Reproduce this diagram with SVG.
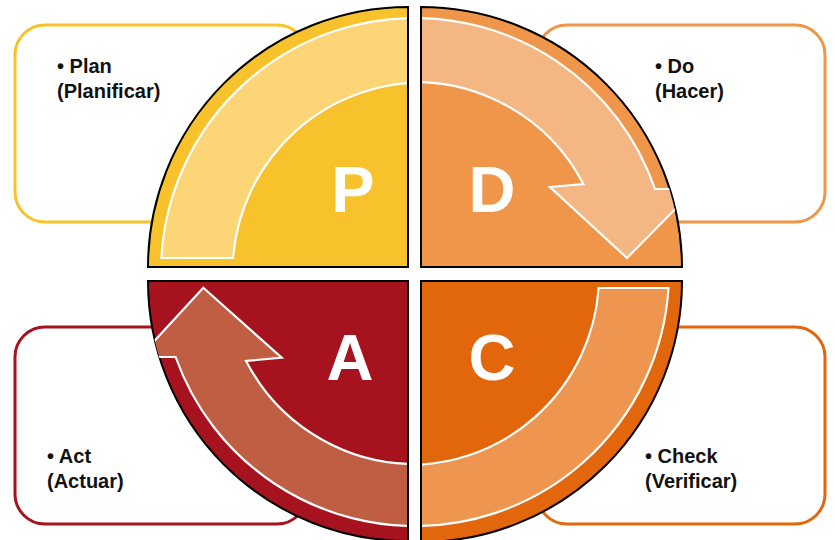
<svg xmlns="http://www.w3.org/2000/svg" width="835" height="540" viewBox="0 0 835 540">
<style>
.box{fill:#fff;stroke-width:3}
.lbl{font-family:"Liberation Sans",Arial,sans-serif;font-weight:bold;font-size:20px;fill:#111}
.quad{stroke:#000;stroke-width:2;stroke-linejoin:miter}
.let{font-family:"Liberation Sans",Arial,sans-serif;font-weight:bold;font-size:65px;fill:#fff;text-anchor:middle}
.band{stroke:#fff;stroke-width:2.2;stroke-linejoin:miter}
</style>
<defs>
<clipPath id="cTL"><path d="M407,266 L148,266 A259,259 0 0 1 407,7 Z"/></clipPath>
<clipPath id="cTR"><path d="M422,266 L422,7 A259,259 0 0 1 681,266 Z"/></clipPath>
<clipPath id="cBL"><path d="M407,282 L407,541 A259,259 0 0 1 148,282 Z"/></clipPath>
<clipPath id="cBR"><path d="M422,282 L681,282 A259,259 0 0 1 422,541 Z"/></clipPath>
</defs>
<rect width="835" height="540" fill="#fff"/>
<g id="box-plan">
<rect class="box" x="15" y="25" width="292" height="197" rx="30" stroke="#F8C22C"/>
<text class="lbl" x="57" y="73">• Plan</text>
<text class="lbl" x="57" y="98">(Planificar)</text>
</g>
<g id="box-do">
<rect class="box" x="537" y="25" width="288" height="197" rx="30" stroke="#EF964B"/>
<text class="lbl" x="655" y="73">• Do</text>
<text class="lbl" x="655" y="98">(Hacer)</text>
</g>
<g id="box-act">
<rect class="box" x="15" y="327" width="292" height="197" rx="30" stroke="#A6131F"/>
<text class="lbl" x="47" y="463">• Act</text>
<text class="lbl" x="47" y="488">(Actuar)</text>
</g>
<g id="box-check">
<rect class="box" x="537" y="327" width="288" height="197" rx="30" stroke="#E2660C"/>
<text class="lbl" x="645" y="463">• Check</text>
<text class="lbl" x="645" y="488">(Verificar)</text>
</g>
<g id="quad-p">
<path class="quad" d="M408,267 L148,267 A260,260 0 0 1 408,7 Z" fill="#F8C22C"/>
<text class="let" x="353" y="212">P</text>
</g>
<g id="quad-d">
<path class="quad" d="M421,267 L421,7 A261,261 0 0 1 682,267 Z" fill="#EF964B"/>
<text class="let" x="492" y="212">D</text>
</g>
<g id="quad-a">
<path class="quad" d="M408,281 L408,541 A260,260 0 0 1 148,281 Z" fill="#A6131F"/>
<text class="let" x="350" y="380">A</text>
</g>
<g id="quad-c">
<path class="quad" d="M421,281 L682,281 A261,261 0 0 1 421,542 Z" fill="#E2660C"/>
<text class="let" x="492" y="380">C</text>
</g>
<g id="connectors">
<g clip-path="url(#cTL)">
<path class="band" fill="#FBD576" d="M161.4,258 A254,254 0 0 1 430,18.4 L430,82.7 A190,190 0 0 0 233.1,258 Z"/>
</g>
<g clip-path="url(#cTR)">
<path class="band" fill="#F4B682" d="M400,18.4 A254,254 0 0 1 655,189 L695,189 L627,258 L550,187 L583.4,184 A190,190 0 0 0 400,82.6 Z"/>
</g>
<g clip-path="url(#cBR)">
<path class="band" fill="#EE9650" d="M598.6,288 L668.5,288 A254,254 0 0 1 400,525.6 L400,464.8 A190,190 0 0 0 598.6,288 Z"/>
</g>
<g clip-path="url(#cBL)">
<path class="band" fill="#C05E43" d="M430,525.6 A254,254 0 0 1 175.6,357 L139.7,357 L203.3,287.7 L281.7,357.7 L246.1,361 A190,190 0 0 0 430,463.4 Z"/>
</g>
</g>
</svg>
